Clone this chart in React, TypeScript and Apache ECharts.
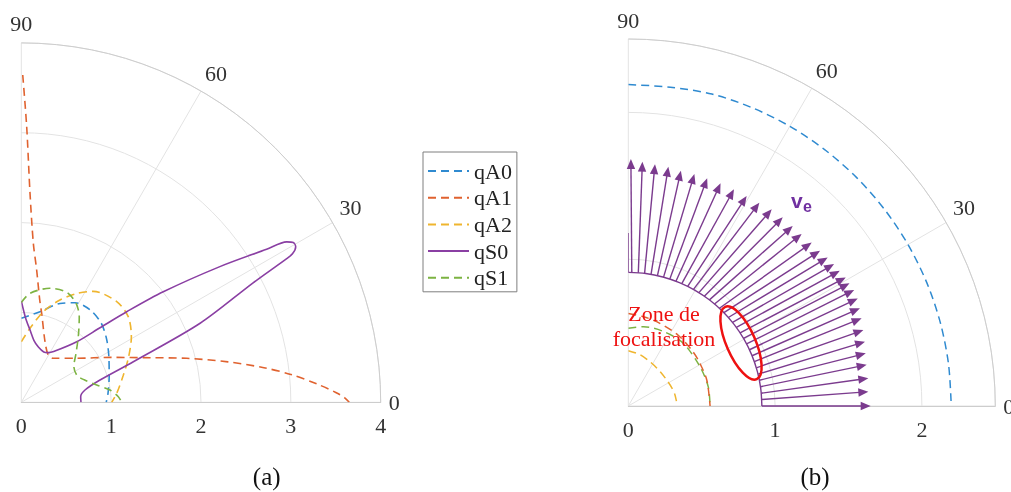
import React, { useEffect, useRef } from 'react';
import * as echarts from 'echarts';

const FONT = '"Liberation Serif", "Times New Roman", serif';

// ---------- (a) curves as [x, y] in radius units ----------
const qA0Pts: number[][] = [
  [0, 0.935], [0.208, 1.008], [0.43, 1.1], [0.6, 1.108], [0.765, 1.03], [0.89, 0.88],
  [0.95, 0.7], [0.975, 0.5], [0.978, 0.285], [0.965, 0.1], [0.945, 0],
];
const qA1Pts: number[][] = [
  [0.016, 3.643], [0.06, 3.067], [0.097, 2.326], [0.134, 1.77], [0.171, 1.472], [0.205, 1.14],
  [0.227, 0.99], [0.264, 0.674], [0.3, 0.526], [0.356, 0.49], [0.617, 0.49], [1.0, 0.5],
  [1.432, 0.496], [1.84, 0.49], [2.3, 0.45], [2.7, 0.385], [3.0, 0.31], [3.3, 0.2],
  [3.5, 0.11], [3.6, 0.05], [3.65, 0],
];
const qA2Pts: number[][] = [
  [0, 0.674], [0.097, 0.824], [0.245, 1.008], [0.43, 1.139], [0.617, 1.21], [0.8, 1.235],
  [1.062, 1.12], [1.19, 0.953], [1.225, 0.73], [1.195, 0.508], [1.135, 0.3], [1.062, 0.1], [1.006, 0],
];
const qS0Pts: number[][] = [
  [0, 1.127], [0.05, 0.93], [0.097, 0.805], [0.14, 0.69], [0.19, 0.615], [0.25, 0.56],
  [0.3, 0.553], [0.36, 0.565], [0.617, 0.674], [0.876, 0.83], [1.173, 1.008], [1.58, 1.23],
  [2.21, 1.51], [2.73, 1.703], [2.954, 1.786], [3.027, 1.778], [3.054, 1.732], [3.02, 1.655],
  [2.954, 1.6], [2.58, 1.33], [1.99, 0.88], [1.247, 0.452], [0.876, 0.248], [0.709, 0.137],
  [0.661, 0.062], [0.664, 0],
];
const qS1Pts: number[][] = [
  [0, 1.11], [0.097, 1.213], [0.319, 1.269], [0.505, 1.225], [0.61, 1.1], [0.645, 0.95],
  [0.636, 0.75], [0.61, 0.55], [0.585, 0.4], [0.62, 0.3], [0.7, 0.25], [0.839, 0.193],
  [0.987, 0.137], [1.08, 0.062], [1.117, 0],
];

const SERIES_NAMES = ['qA0', 'qA1', 'qA2', 'qS0', 'qS1'];
const SERIES_PTS = [qA0Pts, qA1Pts, qA2Pts, qS0Pts, qS1Pts];
const SERIES_COLORS = ['#2f8ad0', '#e0622f', '#efb52e', '#8a3fa3', '#7cb342'];
const SERIES_DASHED = [true, true, true, false, true];

// ---------- (b) data, [radius, angle] ----------
const bBlue: number[][] = [
  [2.19, 90], [2.19, 82.5], [2.2, 75], [2.2, 67.5], [2.2, 60], [2.2, 52.5], [2.2, 45],
  [2.2, 37.5], [2.2, 30], [2.2, 22.5], [2.2, 15], [2.2, 7.5], [2.2, 0],
];
const bRed: number[][] = [
  [0.63, 90], [0.617, 80.5], [0.606, 71.4], [0.59, 55], [0.575, 40], [0.568, 30.8], [0.563, 18], [0.557, 0],
];
const bYellow: number[][] = [
  [0.377, 90], [0.36, 78], [0.336, 64], [0.32, 48], [0.316, 34], [0.322, 22], [0.327, 13], [0.334, 0],
];
const bGreen: number[][] = [
  [0.53, 90], [0.55, 79], [0.562, 64], [0.568, 48.7], [0.557, 28.7], [0.56, 13.6], [0.557, 0],
];
const baseArcAngles = [90, 82.5, 75, 67.5, 60, 52.5, 45, 37.5, 30, 22.5, 15, 7.5, 0];
const BASE_R = 0.91;
const axisStub: number[][] = [[0.91, 90], [1.178, 90]];

const arrowBaseAngle = [
  88.5, 85.7, 83.0, 80.2, 77.4, 74.7, 71.9, 69.1, 66.4, 63.6, 60.8, 58.1, 55.3, 52.6, 49.8, 47.0,
  44.3, 41.5, 38.7, 36.0, 33.2, 30.4, 27.7, 24.9, 22.1, 19.4, 16.6, 13.8, 11.1, 8.3, 5.5, 2.8, 0,
];
const arrowTipR = [
  1.683, 1.667, 1.657, 1.653, 1.642, 1.643, 1.642, 1.642, 1.642, 1.642, 1.648, 1.658, 1.661, 1.661,
  1.664, 1.673, 1.681, 1.694, 1.703, 1.71, 1.721, 1.723, 1.73, 1.726, 1.713, 1.698, 1.683, 1.671,
  1.657, 1.648, 1.646, 1.638, 1.651,
];
const arrowTipAngle = [
  89.4, 86.7, 83.7, 80.5, 77.4, 74.1, 70.9, 67.5, 64.0, 60.6, 57.2, 53.9, 50.7, 47.6, 44.8, 41.7,
  39.0, 36.7, 34.6, 32.6, 30.6, 29.0, 27.2, 25.1, 22.9, 20.6, 17.9, 15.2, 12.5, 9.8, 6.6, 3.4, 0,
];

const ARROW_COLOR = '#7b3b8e';
const GRID = '#e3e3e3';
const AXIS = '#cdcdcd';

function toPolar(pts: number[][]) {
  return pts.map(([x, y]) => [Math.hypot(x, y), (Math.atan2(y, x) * 180) / Math.PI]);
}

function angleAxis(polarIndex: number) {
  return {
    polarIndex,
    type: 'value',
    min: 0,
    max: 90,
    interval: 30,
    startAngle: 0,
    endAngle: 90,
    clockwise: false,
    axisLine: { show: true, lineStyle: { color: AXIS, width: 1 } },
    axisTick: { show: false },
    axisLabel: { show: true, fontSize: 22, color: '#333', fontFamily: FONT, margin: 8 },
    splitLine: { show: true, lineStyle: { color: GRID, width: 1 } },
  };
}

function radiusAxis(polarIndex: number, max: number) {
  return {
    polarIndex,
    type: 'value',
    min: 0,
    max,
    interval: 1,
    axisLine: { show: true, lineStyle: { color: AXIS, width: 1 } },
    axisTick: { show: false },
    axisLabel: {
      show: true, fontSize: 22, color: '#333', fontFamily: FONT, margin: -34,
      showMaxLabel: max === 4,
    },
    splitLine: { show: true, lineStyle: { color: GRID, width: 1 } },
  };
}

export default function App() {
  const ref = useRef<HTMLDivElement>(null);

  useEffect(() => {
    if (!ref.current) return;
    const chart = echarts.init(ref.current, undefined, { renderer: 'svg' });

    const aSeries = SERIES_NAMES.map((name, i) => ({
      type: 'line',
      name,
      coordinateSystem: 'polar',
      polarIndex: 0,
      data: toPolar(SERIES_PTS[i]),
      symbol: 'none',
      showSymbol: false,
      smooth: 0.3,
      lineStyle: { color: SERIES_COLORS[i], width: 1.6, type: SERIES_DASHED[i] ? [8, 5] : 'solid' },
      itemStyle: { color: SERIES_COLORS[i] },
      z: 3,
    }));

    const bLine = (data: number[][], color: string, dashed: boolean, width = 1.5) => ({
      type: 'line',
      coordinateSystem: 'polar',
      polarIndex: 1,
      data,
      symbol: 'none',
      showSymbol: false,
      smooth: 0.3,
      silent: true,
      lineStyle: { color, width, type: dashed ? [8, 5] : 'solid' },
      z: 3,
    });

    const arrowData = arrowBaseAngle.map((a, i) => [BASE_R, a, arrowTipR[i], arrowTipAngle[i]]);

    const arrowSeries = {
      type: 'custom',
      coordinateSystem: 'polar',
      polarIndex: 1,
      data: arrowData,
      silent: true,
      z: 4,
      renderItem: (params: any, api: any) => {
        const p0 = api.coord([api.value(0), api.value(1)]);
        const p1 = api.coord([api.value(2), api.value(3)]);
        const dx = p1[0] - p0[0];
        const dy = p1[1] - p0[1];
        const len = Math.hypot(dx, dy) || 1;
        const ux = dx / len;
        const uy = dy / len;
        const hl = 10;
        const hw = 4.2;
        const bx = p1[0] - ux * hl;
        const by = p1[1] - uy * hl;
        return {
          type: 'group',
          children: [
            {
              type: 'line',
              shape: { x1: p0[0], y1: p0[1], x2: bx + ux * 1, y2: by + uy * 1 },
              style: { stroke: ARROW_COLOR, lineWidth: 1.4 },
            },
            {
              type: 'polygon',
              shape: {
                points: [
                  [p1[0], p1[1]],
                  [bx - uy * hw, by + ux * hw],
                  [bx + uy * hw, by - ux * hw],
                ],
              },
              style: { fill: ARROW_COLOR },
            },
          ],
        };
      },
    };

    chart.setOption({
      animation: false,
      textStyle: { fontFamily: FONT },
      polar: [
        { center: [21.3, 402.3], radius: 359.4 },
        { center: [628.3, 406], radius: 367 },
      ],
      angleAxis: [angleAxis(0), angleAxis(1)],
      radiusAxis: [radiusAxis(0, 4), radiusAxis(1, 2.5)],
      legend: {
        data: SERIES_NAMES,
        orient: 'vertical',
        left: 423,
        top: 152,
        itemWidth: 41,
        itemHeight: 14,
        itemGap: 4.7,
        padding: [8, 5, 3, 4],
        borderColor: '#7f7f7f',
        borderWidth: 1,
        selectedMode: false,
        itemStyle: { opacity: 0, borderWidth: 0 },
        textStyle: { fontFamily: FONT, fontSize: 22, color: '#222', lineHeight: 22 },
      },
      series: [
        ...aSeries,
        bLine(bBlue, '#2f8ad0', true),
        bLine(bYellow, '#efb52e', true),
        bLine(bGreen, '#7cb342', true),
        bLine(bRed, '#e0622f', true),
        bLine(baseArcAngles.map((a) => [BASE_R, a]), ARROW_COLOR, false, 1.4),
        bLine(axisStub, ARROW_COLOR, false, 1.4),
        arrowSeries,
      ],
      graphic: [
        {
          type: 'text',
          style: { x: 266.7, y: 476, text: '(a)', font: `25px ${FONT}`, fill: '#111', align: 'center', verticalAlign: 'middle' },
        },
        {
          type: 'text',
          style: { x: 815, y: 476, text: '(b)', font: `25px ${FONT}`, fill: '#111', align: 'center', verticalAlign: 'middle' },
        },
        {
          type: 'text',
          z: 10,
          style: {
            x: 664, y: 326, text: 'Zone de\nfocalisation', font: `22px ${FONT}`, fill: '#ee1111',
            align: 'center', verticalAlign: 'middle', lineHeight: 25,
          },
        },
        {
          type: 'ellipse',
          x: 741,
          y: 343,
          rotation: 0.41,
          z: 10,
          shape: { cx: 0, cy: 0, rx: 14.5, ry: 39.5 },
          style: { fill: 'none', stroke: '#ee1111', lineWidth: 2.5 },
        },
        {
          type: 'text',
          z: 10,
          style: { x: 791, y: 200, text: 'v', font: 'bold 21px "Liberation Sans", Arial, sans-serif', fill: '#7030a0', verticalAlign: 'middle' },
        },
        {
          type: 'text',
          z: 10,
          style: { x: 803, y: 206.5, text: 'e', font: 'bold 16px "Liberation Sans", Arial, sans-serif', fill: '#7030a0', verticalAlign: 'middle' },
        },
      ],
    });

    return () => chart.dispose();
  }, []);

  return <div ref={ref} style={{ position: 'fixed', left: 0, top: 0, width: 1011, height: 492 }} />;
}
